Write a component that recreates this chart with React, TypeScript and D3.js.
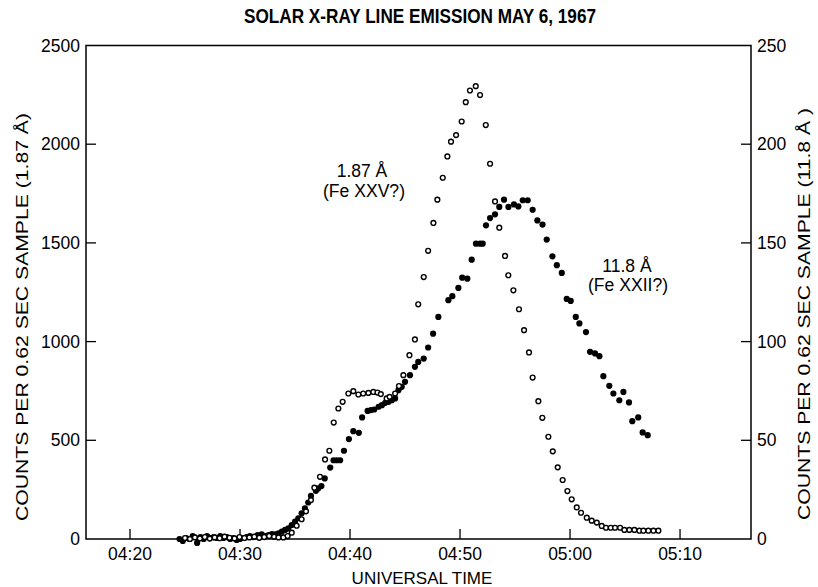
import React from "react";
import * as d3 from "d3";

// time in minutes after 04:00 UT
const fe25Times = [25.0, 25.45, 25.9, 26.35, 26.8, 27.25, 27.7, 28.15, 28.6, 29.05, 29.5, 29.95, 30.4, 30.85, 31.3, 31.75, 32.2, 32.65, 33.1, 33.5, 33.94,
  34.33, 34.7, 35.15, 35.6, 36.0, 36.45, 36.76, 37.27, 37.73, 38.12, 38.52, 38.94, 39.33, 39.85, 40.3, 40.76, 41.2, 41.67, 42.12, 42.5, 42.8, 43.33, 43.6, 44.1, 44.45, 44.85,
  45.4, 45.9, 46.2, 46.7, 47.1, 47.58, 47.94, 48.43, 48.85, 49.18, 49.64, 50.15, 50.52, 50.9, 51.43, 51.82, 52.34, 52.73, 53.18, 53.57, 54.09, 54.39, 54.85, 55.36,
  55.82, 56.27, 56.6, 57.12, 57.48, 58.03, 58.43, 58.88, 59.33, 59.76, 60.15, 60.61, 61.0, 61.52, 61.97, 62.43, 62.88, 63.27, 63.7, 64.09, 64.55, 64.94, 65.39, 65.85,
  66.3, 66.67, 67.12, 67.58, 68.03];
// counts per 0.62 s sample, 1.87 Å (left axis)
const fe25Counts = [5, 0, 8, 3, 10, 2, 8, 4, 12, 6, 3, 10, 5, 8, 12, 6, 10, 15, 12, 8, 8,
  15, 32, 67, 100, 140, 197, 260, 315, 403, 447, 590, 661, 695, 737, 749, 732, 737, 740, 745, 742, 734, 712, 720, 737, 775, 830,
  931, 1011, 1189, 1327, 1460, 1601, 1719, 1830, 1938, 2013, 2046, 2115, 2213, 2272, 2294, 2249, 2097, 1901, 1710, 1577, 1434, 1336, 1260, 1164,
  1058, 945, 818, 698, 614, 518, 444, 363, 299, 243, 201, 160, 133, 108, 93, 83, 66, 57, 57, 57, 57, 46, 46, 46,
  42, 42, 42, 42, 42];

const fe22Times = [24.5, 24.8, 25.1, 25.4, 25.7, 26.1, 26.4, 26.7, 27.0, 27.3, 27.6, 27.9, 28.2, 28.5, 28.8, 29.1, 29.4, 29.7, 30.0, 30.3, 30.6, 30.9, 31.2, 31.6,
  31.97, 32.3, 32.6, 32.9, 33.2, 33.5, 33.8, 34.1, 34.4, 34.7, 35.0, 35.3, 35.6, 35.9, 36.2, 36.45, 36.9, 37.1, 37.4, 37.7, 38.2, 38.5, 38.8, 39.1, 39.45, 39.9,
  40.3, 40.8, 41.1, 41.6, 41.9, 42.2, 42.6, 42.9, 43.2, 43.5, 43.8, 44.1, 44.4, 44.7, 45.0, 45.45, 45.9, 46.2, 46.7, 47.1, 47.55, 48.03, 48.94, 49.3, 49.85,
  50.2, 50.66, 51.06, 51.45, 51.82, 52.06, 52.36, 52.73, 53.18, 53.57, 54.0, 54.4, 54.9, 55.3, 55.7, 56.15, 56.6, 57.03, 57.5, 57.88, 58.4, 58.8, 59.25,
  59.7, 60.06, 60.52, 60.85, 61.45, 61.82, 62.27, 62.67, 63.03, 63.57, 63.94, 64.48, 64.85, 65.36, 65.66, 66.2, 66.6, 67.06];
// counts per 0.62 s sample, 11.8 Å (right axis)
const fe22Counts = [0, -1, 0.5, 0, 1.5, -2, 1, 0, 1.5, 0.5, 1, 0.5, 1.5, 0.5, 1, 0, 0.5, -0.5, 0, 0.5, 1, 1.5, 1, 2,
  2.4, 1.5, 2, 2.5, 2.4, 2.9, 3.7, 4.6, 5.4, 7.1, 8.8, 10.5, 13, 15.5, 18.5, 21.8, 24.4, 25.6, 26.8, 30.7, 36.2, 39.9, 39.9, 39.9, 44.7, 50.6,
  54.6, 53.8, 61.6, 64.9, 65.3, 65.6, 67, 67.8, 69, 69.5, 70.3, 71.2, 75.4, 77.1, 79.6, 83, 87.2, 89.7, 91.4, 97, 104, 112.5, 121, 123, 127.2,
  132.4, 131.9, 141.5, 149.6, 149.6, 149.6, 158.9, 162.6, 164.5, 168.2, 171.9, 168.2, 169.5, 168.5, 171.6, 171.6, 166.8, 161.4, 159.3, 151.7, 143.2, 138.7, 134.8,
  121.6, 120.6, 112.5, 109.2, 104.8, 94.8, 94, 92.6, 82.5, 77.6, 73.7, 70.3, 74.5, 69.2, 59.7, 61.6, 54, 52.6];

const xTickMinutes = [20, 30, 40, 50, 60, 70];
const xTickLabels = ["04:20", "04:30", "04:40", "04:50", "05:00", "05:10"];
const leftTicks = [0, 500, 1000, 1500, 2000, 2500];
const rightTicks = [0, 50, 100, 150, 200, 250];

const title = "SOLAR X-RAY LINE EMISSION MAY 6, 1967";
const xTitle = "UNIVERSAL TIME";
const leftTitle = "COUNTS PER 0.62 SEC SAMPLE (1.87 Å)";
const rightTitle = "COUNTS PER 0.62 SEC SAMPLE (11.8 Å )";

export default function App() {
  const W = 818, H = 587;
  const L = 86, R = 751, T = 45.5, B = 539;
  const x = d3.scaleLinear().domain([16, 76.45]).range([L, R]);
  const yL = d3.scaleLinear().domain([0, 2500]).range([B, T]);
  const yR = d3.scaleLinear().domain([0, 250]).range([B, T]);
  const font = "'Liberation Sans', Arial, Helvetica, sans-serif";
  const tickLen = 10;

  return (
    <svg width={W} height={H} style={{ position: "absolute", left: 0, top: 0, background: "#fff" }} fontFamily={font}>
      <rect x={0} y={0} width={W} height={H} fill="#fff" />
      <text x={420} y={23} textAnchor="middle" fontSize={21} fontWeight="bold" textLength={352} lengthAdjust="spacingAndGlyphs"
        fontFamily="'Liberation Sans Narrow', 'Liberation Sans', Arial, sans-serif">{title}</text>

      <rect x={L} y={T} width={R - L} height={B - T} fill="none" stroke="#000" strokeWidth={1.5} />

      {xTickMinutes.map((m, i) => (
        <g key={"xt" + i}>
          <line x1={x(m)} x2={x(m)} y1={B} y2={B - tickLen} stroke="#000" strokeWidth={1.3} />
          <text x={x(m)} y={560} textAnchor="middle" fontSize={17.5}>{xTickLabels[i]}</text>
        </g>
      ))}
      {leftTicks.map((v, i) => (
        <g key={"lt" + i}>
          {v > 0 && v < 2500 && <line x1={L} x2={L + tickLen} y1={yL(v)} y2={yL(v)} stroke="#000" strokeWidth={1.3} />}
          <text x={80} y={yL(v) + 6} textAnchor="end" fontSize={17.5}>{v}</text>
        </g>
      ))}
      {rightTicks.map((v, i) => (
        <g key={"rt" + i}>
          {v > 0 && v < 250 && <line x1={R} x2={R - tickLen} y1={yR(v)} y2={yR(v)} stroke="#000" strokeWidth={1.3} />}
          <text x={757} y={yR(v) + 6} textAnchor="start" fontSize={17.5}>{v}</text>
        </g>
      ))}

      <text x={422} y={584} textAnchor="middle" fontSize={17}>{xTitle}</text>
      <text transform="translate(28,317) rotate(-90)" textAnchor="middle" fontSize={16} textLength={408} lengthAdjust="spacingAndGlyphs">{leftTitle}</text>
      <text transform="translate(810,314) rotate(-90)" textAnchor="middle" fontSize={16} textLength={412} lengthAdjust="spacingAndGlyphs">{rightTitle}</text>

      <text x={362} y={177} textAnchor="middle" fontSize={17.5}>1.87 Å</text>
      <text x={364} y={197} textAnchor="middle" fontSize={17.5} textLength={82} lengthAdjust="spacingAndGlyphs">(Fe XXV?)</text>
      <text x={627} y={272} textAnchor="middle" fontSize={17.5}>11.8 Å</text>
      <text x={628} y={291} textAnchor="middle" fontSize={17.5} textLength={80} lengthAdjust="spacingAndGlyphs">(Fe XXII?)</text>

      <g>
        {fe22Times.map((t, i) => (
          <circle key={"f" + i} cx={x(t)} cy={yR(fe22Counts[i])} r={3.1} fill="#000" />
        ))}
      </g>
      <g>
        {fe25Times.map((t, i) => (
          <circle key={"o" + i} cx={x(t)} cy={yL(fe25Counts[i])} r={2.4} fill="#fff" stroke="#000" strokeWidth={1.4} />
        ))}
      </g>
    </svg>
  );
}
